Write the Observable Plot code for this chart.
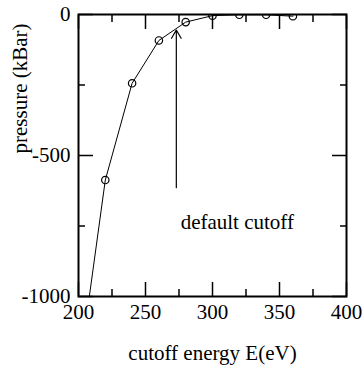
<!DOCTYPE html>
<html>
<head>
<meta charset="utf-8">
<script src="https://cdn.jsdelivr.net/npm/d3@7"></script>
<script src="https://cdn.jsdelivr.net/npm/@observablehq/plot@0.6"></script>
<style>
  html, body { margin: 0; padding: 0; background: #fff; }
  #chart svg { display: block; }
</style>
</head>
<body>
<div id="chart"></div>
<script>
// Data
const energy = [200, 220, 240, 260, 280, 300, 320, 340, 360];
const pressure = [-1280, -587, -244, -92, -27, -4, -1, -1, -6];

const xMajorTicks = [200, 250, 300, 350, 400];
const xMinorTicks = [225, 275, 325, 375];
const yMajorTicks = [-1000, -500, 0];
const yMinorTicks = [-750, -250];

const arrowStart = {x: 273, y: -614};
const arrowEnd = {x: 273, y: -55};
const annotationText = ["default cutoff"];
const annotationPos = {x: 318.5, y: -759};

const xLabel = "cutoff energy E(eV)";
const yLabel = "pressure (kBar)";

const points = energy.map((e, i) => ({energy: e, pressure: pressure[i]}));

const font = "Liberation Serif, DejaVu Serif, serif";
const fs = 21;

const chart = Plot.plot({
  width: 363,
  height: 366,
  marginLeft: 78,
  marginRight: 17,
  marginTop: 14,
  marginBottom: 70,
  style: {fontFamily: font, fontSize: fs + "px", background: "white", color: "black"},
  x: {domain: [200, 400]},
  y: {domain: [-1000, 0]},
  marks: [
    // inward ticks (major/minor) on all four sides
    Plot.axisX({anchor: "bottom", ticks: xMajorTicks, tickSize: 14, dy: -14, text: null, label: null, strokeWidth: 1.5}),
    Plot.axisX({anchor: "bottom", ticks: xMinorTicks, tickSize: 7, dy: -7, text: null, label: null, strokeWidth: 1.5}),
    Plot.axisX({anchor: "top", ticks: xMajorTicks, tickSize: 14, dy: 14, text: null, label: null, strokeWidth: 1.5}),
    Plot.axisX({anchor: "top", ticks: xMinorTicks, tickSize: 7, dy: 7, text: null, label: null, strokeWidth: 1.5}),
    Plot.axisY({anchor: "left", ticks: yMajorTicks, tickSize: 15, dx: 15, text: null, label: null, strokeWidth: 1.5}),
    Plot.axisY({anchor: "left", ticks: yMinorTicks, tickSize: 7, dx: 7, text: null, label: null, strokeWidth: 1.5}),
    Plot.axisY({anchor: "right", ticks: yMajorTicks, tickSize: 15, dx: -15, text: null, label: null, strokeWidth: 1.5}),
    Plot.axisY({anchor: "right", ticks: yMinorTicks, tickSize: 7, dx: -7, text: null, label: null, strokeWidth: 1.5}),
    // tick labels
    Plot.axisX({anchor: "bottom", ticks: xMajorTicks, tickSize: 0, tickPadding: 8, label: null, fontSize: fs, fontFamily: font, tickFormat: d => String(d)}),
    Plot.axisY({anchor: "left", ticks: yMajorTicks, tickSize: 0, tickPadding: 8, label: null, fontSize: fs, fontFamily: font, tickFormat: d => String(d)}),
    // axis titles
    Plot.text([xLabel], {text: d => d, frameAnchor: "bottom", dy: 63, lineAnchor: "bottom", fontSize: fs, fontFamily: font}),
    Plot.text([yLabel], {text: d => d, frameAnchor: "left", dx: -52, dy: -2, rotate: -90, lineAnchor: "bottom", fontSize: fs, fontFamily: font}),
    // data
    Plot.line(points, {x: "energy", y: "pressure", stroke: "black", strokeWidth: 1, clip: true}),
    Plot.dot(points, {x: "energy", y: "pressure", r: 3.7, stroke: "black", fill: "none", strokeWidth: 1.2, clip: true}),
    // annotation arrow and text
    Plot.arrow([{}], {x1: () => arrowStart.x, y1: () => arrowStart.y, x2: () => arrowEnd.x, y2: () => arrowEnd.y, stroke: "black", strokeWidth: 1.2, headLength: 12, headAngle: 60}),
    Plot.text(annotationText, {text: d => d, x: () => annotationPos.x, y: () => annotationPos.y, lineAnchor: "bottom", fontSize: fs, fontFamily: font}),
    Plot.frame({stroke: "black", strokeWidth: 2})
  ]
});

document.getElementById("chart").appendChild(chart);
</script>
</body>
</html>
